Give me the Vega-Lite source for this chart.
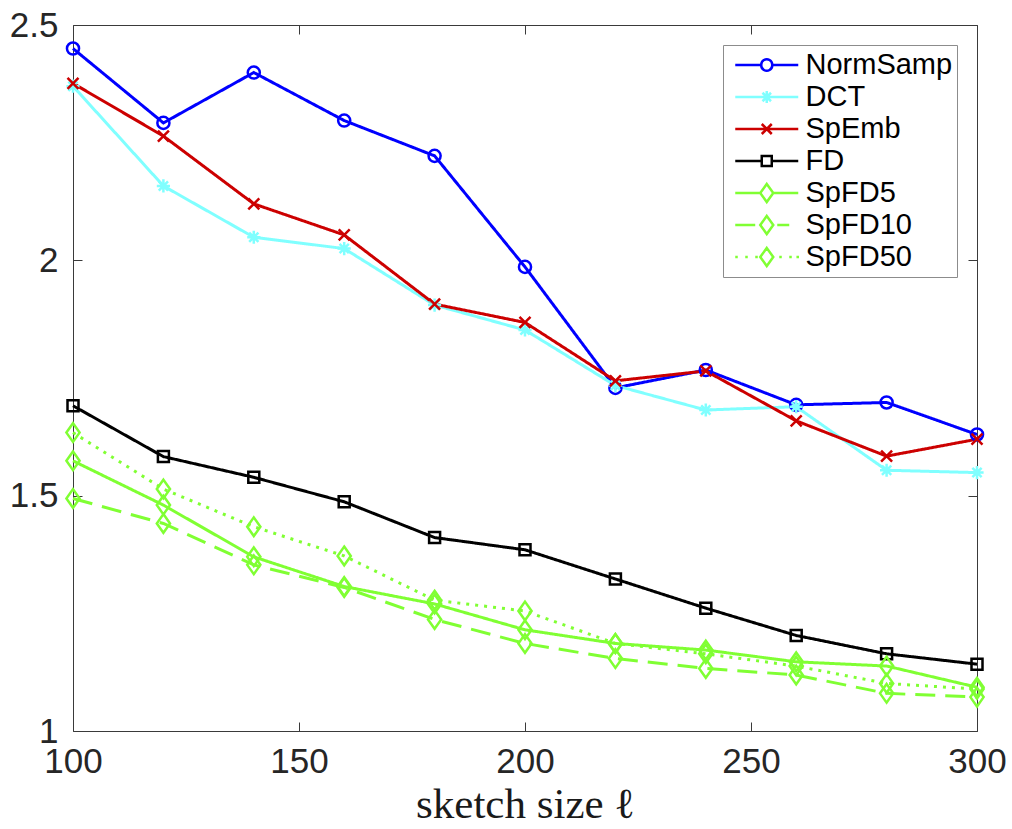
{
  "$schema": "https://vega.github.io/schema/vega-lite/v6.json",
  "width": 904,
  "height": 706,
  "autosize": "none",
  "padding": {"left": 73, "top": 25, "right": 35, "bottom": 98},
  "background": "white",
  "data": {
    "values": [
      {"method": "NormSamp", "size": 100, "err": 2.450},
      {"method": "NormSamp", "size": 120, "err": 2.292},
      {"method": "NormSamp", "size": 140, "err": 2.399},
      {"method": "NormSamp", "size": 160, "err": 2.297},
      {"method": "NormSamp", "size": 180, "err": 2.222},
      {"method": "NormSamp", "size": 200, "err": 1.986},
      {"method": "NormSamp", "size": 220, "err": 1.729},
      {"method": "NormSamp", "size": 240, "err": 1.767},
      {"method": "NormSamp", "size": 260, "err": 1.693},
      {"method": "NormSamp", "size": 280, "err": 1.698},
      {"method": "NormSamp", "size": 300, "err": 1.630},
      {"method": "DCT", "size": 100, "err": 2.370},
      {"method": "DCT", "size": 120, "err": 2.158},
      {"method": "DCT", "size": 140, "err": 2.049},
      {"method": "DCT", "size": 160, "err": 2.025},
      {"method": "DCT", "size": 180, "err": 1.905},
      {"method": "DCT", "size": 200, "err": 1.852},
      {"method": "DCT", "size": 220, "err": 1.734},
      {"method": "DCT", "size": 240, "err": 1.682},
      {"method": "DCT", "size": 260, "err": 1.689},
      {"method": "DCT", "size": 280, "err": 1.554},
      {"method": "DCT", "size": 300, "err": 1.549},
      {"method": "SpEmb", "size": 100, "err": 2.376},
      {"method": "SpEmb", "size": 120, "err": 2.264},
      {"method": "SpEmb", "size": 140, "err": 2.120},
      {"method": "SpEmb", "size": 160, "err": 2.054},
      {"method": "SpEmb", "size": 180, "err": 1.907},
      {"method": "SpEmb", "size": 200, "err": 1.868},
      {"method": "SpEmb", "size": 220, "err": 1.744},
      {"method": "SpEmb", "size": 240, "err": 1.765},
      {"method": "SpEmb", "size": 260, "err": 1.659},
      {"method": "SpEmb", "size": 280, "err": 1.584},
      {"method": "SpEmb", "size": 300, "err": 1.620},
      {"method": "FD", "size": 100, "err": 1.691},
      {"method": "FD", "size": 120, "err": 1.583},
      {"method": "FD", "size": 140, "err": 1.539},
      {"method": "FD", "size": 160, "err": 1.487},
      {"method": "FD", "size": 180, "err": 1.411},
      {"method": "FD", "size": 200, "err": 1.385},
      {"method": "FD", "size": 220, "err": 1.323},
      {"method": "FD", "size": 240, "err": 1.261},
      {"method": "FD", "size": 260, "err": 1.203},
      {"method": "FD", "size": 280, "err": 1.164},
      {"method": "FD", "size": 300, "err": 1.142},
      {"method": "SpFD5", "size": 100, "err": 1.574},
      {"method": "SpFD5", "size": 120, "err": 1.480},
      {"method": "SpFD5", "size": 140, "err": 1.370},
      {"method": "SpFD5", "size": 160, "err": 1.307},
      {"method": "SpFD5", "size": 180, "err": 1.270},
      {"method": "SpFD5", "size": 200, "err": 1.215},
      {"method": "SpFD5", "size": 220, "err": 1.186},
      {"method": "SpFD5", "size": 240, "err": 1.172},
      {"method": "SpFD5", "size": 260, "err": 1.147},
      {"method": "SpFD5", "size": 280, "err": 1.138},
      {"method": "SpFD5", "size": 300, "err": 1.093},
      {"method": "SpFD10", "size": 100, "err": 1.494},
      {"method": "SpFD10", "size": 120, "err": 1.441},
      {"method": "SpFD10", "size": 140, "err": 1.353},
      {"method": "SpFD10", "size": 160, "err": 1.305},
      {"method": "SpFD10", "size": 180, "err": 1.237},
      {"method": "SpFD10", "size": 200, "err": 1.186},
      {"method": "SpFD10", "size": 220, "err": 1.154},
      {"method": "SpFD10", "size": 240, "err": 1.133},
      {"method": "SpFD10", "size": 260, "err": 1.119},
      {"method": "SpFD10", "size": 280, "err": 1.080},
      {"method": "SpFD10", "size": 300, "err": 1.072},
      {"method": "SpFD50", "size": 100, "err": 1.634},
      {"method": "SpFD50", "size": 120, "err": 1.514},
      {"method": "SpFD50", "size": 140, "err": 1.434},
      {"method": "SpFD50", "size": 160, "err": 1.372},
      {"method": "SpFD50", "size": 180, "err": 1.278},
      {"method": "SpFD50", "size": 200, "err": 1.255},
      {"method": "SpFD50", "size": 220, "err": 1.186},
      {"method": "SpFD50", "size": 240, "err": 1.164},
      {"method": "SpFD50", "size": 260, "err": 1.138},
      {"method": "SpFD50", "size": 280, "err": 1.101},
      {"method": "SpFD50", "size": 300, "err": 1.089}
    ]
  },
  "encoding": {
    "color": {
      "field": "method",
      "type": "nominal",
      "scale": {
        "domain": ["NormSamp", "DCT", "SpEmb", "FD", "SpFD5", "SpFD10", "SpFD50"],
        "range": ["#0000ff", "#80ffff", "#cc0000", "#000000", "#80ff33", "#80ff33", "#80ff33"]
      },
      "legend": {
        "title": null,
        "orient": "top-right",
        "offset": 20,
        "padding": 4,
        "strokeColor": "#8c8c8c",
        "fillColor": "white",
        "labelFont": "Liberation Sans",
        "labelFontSize": 29,
        "labelColor": "#000000",
        "labelOffset": 3.5,
        "symbolSize": 5184,
        "symbolStrokeWidth": 2.5,
        "clipHeight": 32,
        "rowPadding": 0,
        "encode": {
          "symbols": {
            "update": {
              "shape": {"signal": "datum.value === 'NormSamp' ? 'M-0.8125,0H-0.0903M0.2153,0H0.9375M0.2153,0A0.153,0.153 0 1,1 -0.0903,0A0.153,0.153 0 1,1 0.2153,0' : datum.value === 'DCT' ? 'M-0.8125,0H0.9375M-0.1042,0H0.2292M0.0625,-0.167V0.167M-0.0555,-0.118L0.1805,0.118M-0.0555,0.118L0.1805,-0.118' : datum.value === 'SpEmb' ? 'M-0.8125,0H0.9375M-0.0765,-0.139L0.2015,0.139M-0.0765,0.139L0.2015,-0.139' : datum.value === 'FD' ? 'M-0.8125,0H-0.0765M0.2015,0H0.9375M-0.0765,-0.139H0.2015V0.139H-0.0765Z' : datum.value === 'SpFD5' ? 'M-0.8125,0H-0.1185M0.2435,0H0.9375M0.0625,-0.25L0.2435,0L0.0625,0.25L-0.1185,0Z' : datum.value === 'SpFD10' ? 'M-0.8125,0H-0.257M0.354,0H0.6875M0.0625,-0.25L0.2435,0L0.0625,0.25L-0.1185,0Z' : 'M-0.8125,0h0.07M-0.5347,0h0.07M-0.2569,0h0.07M0.4097,0h0.07M0.6875,0h0.07M0.8875,0h0.07M0.0625,-0.25L0.2435,0L0.0625,0.25L-0.1185,0Z'"},
              "fill": {"value": "transparent"},
              "strokeWidth": {"value": 2.5}
            }
          }
        }
      }
    }
  },
  "layer": [
    {
      "mark": {"type": "line", "strokeWidth": 3, "strokeCap": "butt", "strokeJoin": "miter"},
      "encoding": {
        "x": {
          "field": "size", "type": "quantitative",
          "scale": {"domain": [100, 300], "nice": false, "zero": false},
          "axis": {
            "values": [100, 150, 200, 250, 300],
            "title": "sketch size ℓ",
            "titleFont": "Liberation Serif",
            "titleFontSize": 43,
            "titleFontWeight": "normal",
            "titleColor": "#1a1a1a",
            "titleBaseline": "alphabetic",
            "titleY": 86,
            "labelPadding": 22
          }
        },
        "y": {
          "field": "err", "type": "quantitative",
          "scale": {"domain": [1, 2.5], "nice": false, "zero": false},
          "axis": {
            "values": [1, 1.5, 2, 2.5],
            "format": "~g",
            "title": null,
            "labelPadding": 24
          }
        },
        "strokeDash": {
          "field": "method", "type": "nominal",
          "scale": {
            "domain": ["SpFD50", "SpFD10", "SpFD5", "FD", "SpEmb", "DCT", "NormSamp"],
            "range": [[3, 6], [20, 10], [1, 0], [1, 0], [1, 0], [1, 0], [1, 0]]
          },
          "legend": null
        }
      }
    },
    {
      "mark": {"type": "point", "filled": false, "strokeWidth": 2.5, "size": 484, "opacity": 1},
      "encoding": {
        "x": {
          "field": "size", "type": "quantitative",
          "axis": {"orient": "top", "labels": false, "title": null, "values": [100, 150, 200, 250, 300]}
        },
        "y": {
          "field": "err", "type": "quantitative",
          "axis": {"orient": "right", "labels": false, "title": null, "values": [1, 1.5, 2, 2.5]}
        },
        "shape": {
          "field": "method", "type": "nominal",
          "scale": {
            "domain": ["DCT", "NormSamp", "SpEmb", "FD", "SpFD5", "SpFD10", "SpFD50"],
            "range": [
              "M-0.6,0H0.6M0,-0.6V0.6M-0.42,-0.42L0.42,0.42M-0.42,0.42L0.42,-0.42",
              "M0.55,0A0.55,0.55 0 1,1 -0.55,0A0.55,0.55 0 1,1 0.55,0Z",
              "M-0.5,-0.5L0.5,0.5M-0.5,0.5L0.5,-0.5",
              "M-0.5,-0.5H0.5V0.5H-0.5Z",
              "M0,-0.85L0.6,0L0,0.85L-0.6,0Z",
              "M0,-0.85L0.6,0L0,0.85L-0.6,0Z",
              "M0,-0.85L0.6,0L0,0.85L-0.6,0Z"
            ]
          },
          "legend": null
        }
      }
    }
  ],
  "resolve": {"axis": {"x": "independent", "y": "independent"}},
  "config": {
    "view": {"stroke": null},
    "axis": {
      "grid": false,
      "domainColor": "#3a3a3a",
      "domainWidth": 1,
      "tickColor": "#3a3a3a",
      "tickWidth": 1,
      "tickSize": -9,
      "labelColor": "#262626",
      "labelFont": "Liberation Sans",
      "labelFontSize": 35,
      "labelFlush": false,
      "labelOverlap": false,
      "labelBound": false
    }
  }
}
